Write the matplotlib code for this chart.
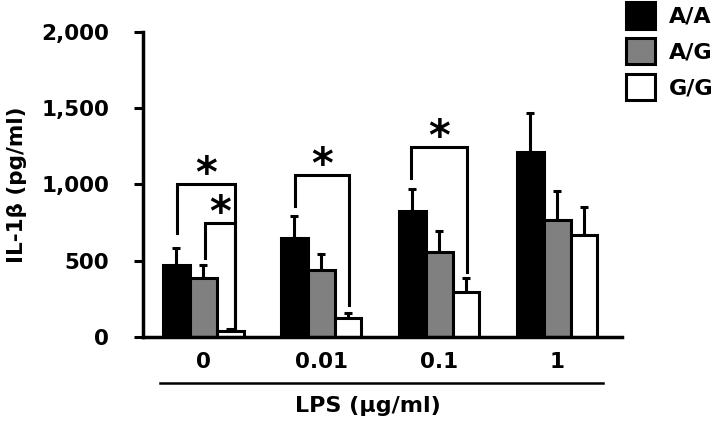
import numpy as np
import matplotlib.pyplot as plt
from matplotlib.patches import Patch

plt.rcParams['font.family'] = ['DejaVu Sans']
plt.rcParams['font.weight'] = 'bold'

# data
doses = ['0', '0.01', '0.1', '1']
genotypes = ['A/A', 'A/G', 'G/G']
aa_mean = [470, 650, 825, 1210]
ag_mean = [385, 440, 555, 770]
gg_mean = [40, 125, 295, 670]
aa_err = [115, 140, 145, 260]
ag_err = [85, 105, 140, 185]
gg_err = [10, 35, 95, 185]
colors = ['black', '#808080', 'white']

# significance brackets: (left x, left leg bottom, right x, right leg bottom, top y)
brackets = [
    (-0.225, 680, 0.27, 45, 1005),
    (0.015, 520, 0.27, 45, 750),
    (0.775, 860, 1.24, 210, 1060),
    (1.765, 1040, 2.235, 425, 1245),
]

x = np.arange(len(doses))
w = 0.228

fig = plt.figure(figsize=(7.2, 4.29), dpi=100)
ax = fig.add_axes([0.1986, 0.2145, 0.6653, 0.711])

means = [aa_mean, ag_mean, gg_mean]
errs = [aa_err, ag_err, gg_err]
for i in range(3):
    xs = x + (i - 1) * w
    ax.errorbar(xs, means[i], yerr=[np.zeros(len(x)), errs[i]], fmt='none',
                ecolor='black', elinewidth=2.2, capsize=3, capthick=2.2, zorder=1)
    ax.bar(xs, means[i], width=w, color=colors[i], edgecolor='black',
           linewidth=2.2, zorder=2, label=genotypes[i])

for x0, y0, x1, y1, top in brackets:
    ax.plot([x0, x0, x1, x1], [y0, top, top, y1], color='black', lw=2.2,
            solid_joinstyle='miter', zorder=3)
    ax.text((x0 + x1) / 2, top - 20, '*', ha='center', va='baseline',
            fontsize=30, fontweight='bold')

ax.set_xlim(-0.51, 3.55)
ax.set_ylim(0, 2000)
ax.set_yticks([0, 500, 1000, 1500, 2000])
ax.set_yticklabels(['0', '500', '1,000', '1,500', '2,000'])
ax.set_xticks(x)
ax.set_xticklabels(doses)
ax.tick_params(axis='y', direction='out', length=6.5, width=2.2, labelsize=15.5, pad=18)
ax.tick_params(axis='x', length=0, labelsize=15.5, pad=11)
for s in ['top', 'right']:
    ax.spines[s].set_visible(False)
for s in ['left', 'bottom']:
    ax.spines[s].set_linewidth(2.5)

fig.text(17 / 720, 1 - 185 / 429, 'IL-1β (pg/ml)', rotation=90, ha='center',
         va='center', fontsize=15.5, fontweight='bold')

# line under the dose labels and the x label
fig.add_artist(plt.Line2D([160 / 720, 603 / 720], [1 - 383 / 429, 1 - 383 / 429],
                          color='black', lw=1.8))
fig.text(368 / 720, 1 - 406 / 429, 'LPS (μg/ml)', ha='center', va='center',
         fontsize=16, fontweight='bold')

handles = [Patch(facecolor=c, edgecolor='black', linewidth=2.2) for c in colors]
fig.legend(handles, genotypes, loc='upper left', bbox_to_anchor=(0.866, 1.0),
           frameon=False, fontsize=16, handlelength=1.3, handleheight=1.45,
           handletextpad=0.65, labelspacing=0.42, borderaxespad=0, borderpad=0.1)

fig.savefig('out.png', dpi=100)
